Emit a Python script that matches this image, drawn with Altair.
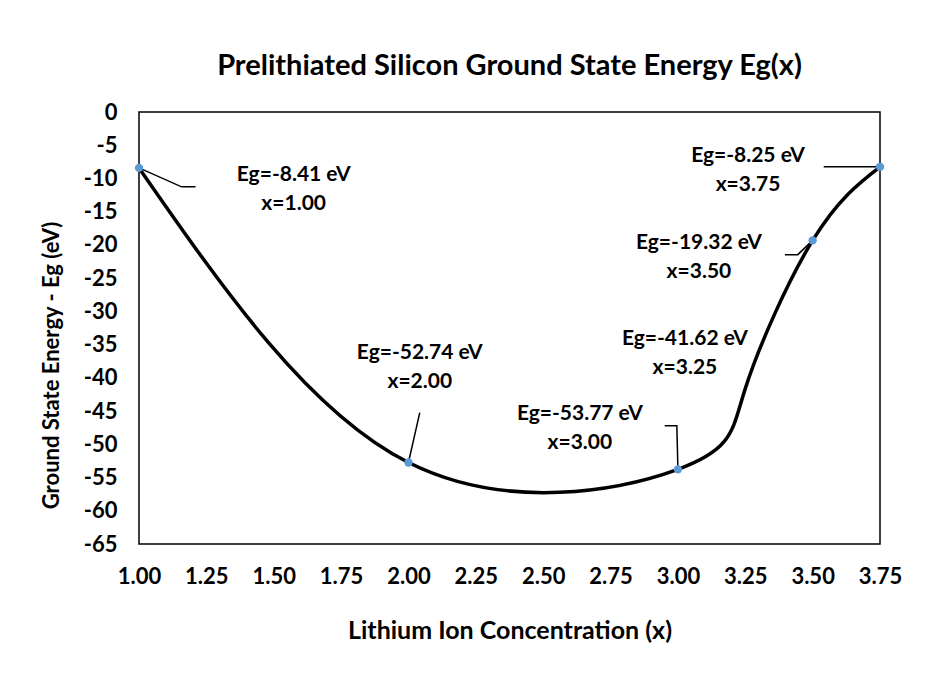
import altair as alt
import pandas as pd

# ---- data ----
x_vals = [1.00, 2.00, 3.00, 3.25, 3.50, 3.75]
eg_vals = [-8.41, -52.74, -53.77, -41.62, -19.32, -8.25]
marker_shown = [True, True, True, False, True, True]

x_ticks = [1.00, 1.25, 1.50, 1.75, 2.00, 2.25, 2.50, 2.75, 3.00, 3.25, 3.50, 3.75]
y_ticks = [0, -5, -10, -15, -20, -25, -30, -35, -40, -45, -50, -55, -60, -65]

# annotation placement (data units) and leader-line bends
label_x = [1.574, 2.042, 2.636, 3.026, 3.078, 3.260]
label_y = [-11.38, -38.16, -47.41, -36.13, -21.68, -8.59]

leader_id = [0, 0, 0, 1, 1, 2, 2, 2, 4, 4, 4, 5, 5]
leader_seq = [0, 1, 2, 0, 1, 0, 1, 2, 0, 1, 2, 0, 1]
leader_x = [1.00, 1.158, 1.210, 2.042, 2.00, 2.951, 2.996, 3.00, 3.397, 3.445, 3.50, 3.541, 3.75]
leader_y = [-8.41, -11.26, -11.26, -45.23, -52.74, -47.19, -47.19, -53.77, -21.46, -21.46, -19.32, -8.25, -8.25]

FONT = "Lato"

pts = pd.DataFrame({"x": x_vals, "eg": eg_vals, "shown": marker_shown})
labels = pd.DataFrame({
    "lx": label_x,
    "ly": label_y,
    "txt": [f"Eg={e:.2f} eV\nx={x:.2f}" for x, e in zip(x_vals, eg_vals)],
})
leaders = pd.DataFrame({"id": leader_id, "seq": leader_seq, "x": leader_x, "y": leader_y})

xscale = alt.Scale(domain=[1, 3.75], nice=False, zero=False)
yscale = alt.Scale(domain=[-65, 0], nice=False, zero=False)

xaxis = alt.Axis(
    title="Lithium Ion Concentration (x)",
    values=x_ticks, format=".2f", grid=False, ticks=False, domain=False,
    labelFont=FONT, labelFontSize=22, labelFontWeight="bold", labelColor="black",
    labelPadding=22, labelFlush=False, labelOverlap=False,
    titleFont=FONT, titleFontSize=25, titleFontWeight="bold", titleColor="black",
    titlePadding=31,
)
yaxis = alt.Axis(
    title="Ground State Energy - Eg (eV)",
    values=y_ticks, labelExpr="datum.value + ''", grid=False, ticks=False, domain=False,
    labelFont=FONT, labelFontSize=22, labelFontWeight="bold", labelColor="black",
    labelPadding=22, labelFlush=False, labelOverlap=False, labelBound=False,
    titleFont=FONT, titleFontSize=22, titleFontWeight="bold", titleColor="black",
    titlePadding=20, titleY=253,
)

X = alt.X("x:Q", scale=xscale, axis=xaxis)

curve = alt.Chart(pts).mark_line(
    interpolate="natural", color="black", strokeWidth=3.5
).encode(
    x=X,
    y=alt.Y("eg:Q", scale=yscale, axis=yaxis),
)

markers = alt.Chart(pts).transform_filter("datum.shown").mark_circle(
    color="#5B9BD5", size=70, opacity=1
).encode(x=X, y=alt.Y("eg:Q", scale=yscale, axis=yaxis))

leader_lines = alt.Chart(leaders).mark_line(color="black", strokeWidth=1.5).encode(
    x=alt.X("x:Q", scale=xscale, axis=xaxis),
    y=alt.Y("y:Q", scale=yscale, axis=yaxis),
    detail="id:N",
    order="seq:Q",
)

texts = alt.Chart(labels).mark_text(
    font=FONT, fontSize=21, fontWeight="bold", color="black",
    lineBreak="\n", lineHeight=29, align="center", baseline="middle", dy=-13,
).encode(
    x=alt.X("lx:Q", scale=xscale, axis=xaxis),
    y=alt.Y("ly:Q", scale=yscale, axis=yaxis),
    text="txt:N",
)

chart = alt.layer(curve, leader_lines, markers, texts).properties(
    width=741,
    height=432,
    title=alt.TitleParams(
        "Prelithiated Silicon Ground State Energy Eg(x)",
        font=FONT, fontSize=29, fontWeight="bold", color="black",
        anchor="middle", offset=20,
    ),
    padding={"left": 131, "top": 104, "right": 50, "bottom": 140},
    autosize=alt.AutoSizeParams(type="none"),
).configure(background="white").configure_axis(
    labelOverlap=False
).configure_view(
    stroke="black", strokeWidth=1.5
)

chart.save("out.html", embed_options={"renderer": "svg", "actions": False})
